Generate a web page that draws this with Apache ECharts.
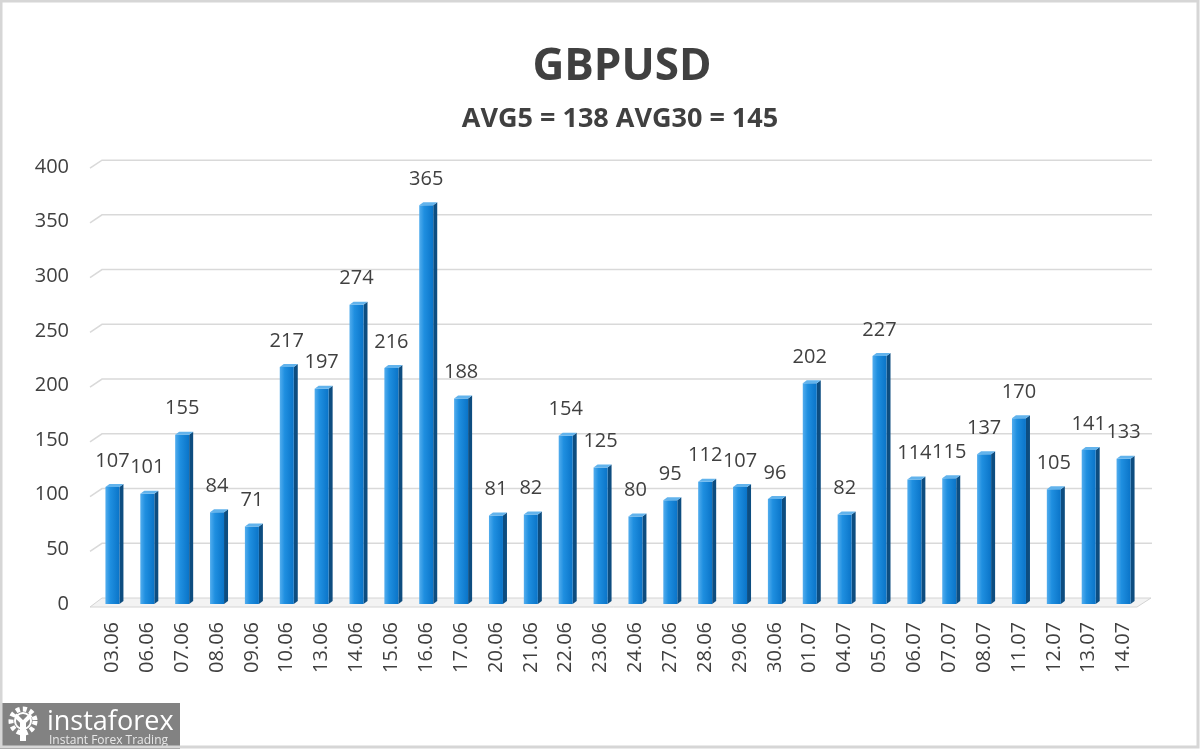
<!DOCTYPE html>
<html>
<head>
<meta charset="utf-8">
<script src="https://cdn.jsdelivr.net/npm/echarts@6/dist/echarts.min.js"></script>
<style>
html,body{margin:0;padding:0;background:#fff;}
#chart{width:1200px;height:749px;}
</style>
</head>
<body>
<div id="chart"></div>
<script>
const titleText = 'GBPUSD';
const subtitleText = 'AVG5 = 138 AVG30 = 145';
const categories = ['03.06','06.06','07.06','08.06','09.06','10.06','13.06','14.06','15.06','16.06','17.06','20.06','21.06','22.06','23.06','24.06','27.06','28.06','29.06','30.06','01.07','04.07','05.07','06.07','07.07','08.07','11.07','12.07','13.07','14.07'];
const values = [107,101,155,84,71,217,197,274,216,365,188,81,82,154,125,80,95,112,107,96,202,82,227,114,115,137,170,105,141,133];
const yTicks = [0,50,100,150,200,250,300,350,400];

const FONT = '"Open Sans", "DejaVu Sans", sans-serif';
const chart = echarts.init(document.getElementById('chart'));

function backY(yf, y0) { return yf - 6 - (y0 - yf) * 0.002; }

const option = {
  backgroundColor: '#ffffff',
  animation: false,
  grid: { left: 95, right: 59, top: 167, bottom: 145 },
  xAxis: {
    type: 'category',
    data: categories,
    axisLine: { show: false },
    axisTick: { show: false },
    axisLabel: { rotate: 90, fontSize: 20, color: '#404040', fontFamily: FONT, margin: 18 }
  },
  yAxis: {
    type: 'value', min: 0, max: 400, interval: 50,
    axisLine: { show: false }, axisTick: { show: false },
    splitLine: { show: false },
    axisLabel: { fontSize: 20, color: '#404040', fontFamily: FONT, margin: 26, padding: [4, 0, 0, 0] }
  },
  graphic: [
    { type: 'rect', shape: { x: 1, y: 1, width: 1197, height: 746 }, style: { fill: 'none', stroke: '#d6d6d6', lineWidth: 3 }, z: 100 },
    { type: 'text', x: 622, y: 67, style: { text: titleText, font: 'bold 44px ' + FONT, fill: '#404040', textAlign: 'center', textVerticalAlign: 'middle' } },
    { type: 'text', x: 620, y: 119, style: { text: subtitleText, font: 'bold 27px ' + FONT, fill: '#404040', textAlign: 'center', textVerticalAlign: 'middle' } },
    { type: 'group', left: 0, top: 703, children: [
      { type: 'rect', shape: { x: 0, y: 0, width: 180, height: 46 }, style: { fill: '#828282' } },
      { type: 'circle', shape: { cx: 23, cy: 18, r: 12 }, style: { fill: 'none', stroke: '#ffffff', lineWidth: 5, lineDash: [4, 3] } },
      { type: 'circle', shape: { cx: 23, cy: 18, r: 8 }, style: { fill: 'none', stroke: '#ffffff', lineWidth: 2 } },
      { type: 'rect', shape: { x: 20, y: 18, width: 6, height: 20 }, style: { fill: '#ffffff' } },
      { type: 'polyline', shape: { points: [[15, 12], [23, 20], [31, 12]] }, style: { stroke: '#ffffff', lineWidth: 4, fill: 'none' } },
      { type: 'text', x: 47, y: 19, style: { text: 'instaforex', font: '27px ' + FONT, fill: '#ffffff', textVerticalAlign: 'middle' } },
      { type: 'text', x: 49, y: 38, style: { text: 'Instant Forex Trading', font: '12px ' + FONT, fill: '#e8e8e8', textVerticalAlign: 'middle' } }
    ] }
  ],
  series: [
    {
      type: 'custom',
      z: 1,
      silent: true,
      data: yTicks.map(v => [0, v]),
      encode: { x: 0, y: 1 },
      renderItem: function (params, api) {
        const cs = params.coordSys;
        const yf = api.coord([0, api.value(1)])[1];
        const y0 = api.coord([0, 0])[1];
        const yb = backY(yf, y0);
        const x0 = cs.x, x1 = cs.x + cs.width;
        const children = [];
        if (api.value(1) === 0) {
          children.push({ type: 'polygon', shape: { points: [[x0 - 5, yb + 9], [x0 + 7, yb], [x1 + 10, yb], [x1 - 4, yb + 9]] },
            style: { fill: '#f3f3f3', stroke: '#d4d4d4', lineWidth: 1 } });
        } else {
          children.push({ type: 'polyline', shape: { points: [[x0 - 5, yb + 8], [x0 + 7, yb], [x1 + 11, yb]] },
            style: { stroke: '#d9d9d9', lineWidth: 1.5, fill: 'none' } });
        }
        return { type: 'group', children: children };
      }
    },
    {
      type: 'custom',
      z: 2,
      data: values.map((v, i) => [i, v]),
      encode: { x: 0, y: 1 },
      renderItem: function (params, api) {
        const v = api.value(1);
        const top = api.coord([api.value(0), v]);
        const bot = api.coord([api.value(0), 0]);
        const w = 14, d = 4, dh = 3;
        const xl = top[0] - w / 2, xr = top[0] + w / 2;
        const yt = top[1], yb = bot[1];
        return {
          type: 'group',
          children: [
            { type: 'polygon', shape: { points: [[xr, yt], [xr + d, yt - dh], [xr + d, yb - dh], [xr, yb]] }, style: { fill: '#0d4d80' } },
            { type: 'rect', shape: { x: xl, y: yt, width: w, height: yb - yt },
              style: { fill: new echarts.graphic.LinearGradient(0, 0, 1, 0, [
                { offset: 0, color: '#52adee' }, { offset: 0.35, color: '#1f8fe0' }, { offset: 1, color: '#0a74c8' }]) } },
            { type: 'polygon', shape: { points: [[xl, yt], [xl + d, yt - dh], [xr + d, yt - dh], [xr, yt]] }, style: { fill: '#62b3ec' } },
            { type: 'text', x: top[0], y: yt - 16, style: { text: String(v), font: '20px ' + FONT, fill: '#404040', textAlign: 'center', textVerticalAlign: 'bottom' } }
          ]
        };
      }
    }
  ]
};
chart.setOption(option);
</script>
</body>
</html>
